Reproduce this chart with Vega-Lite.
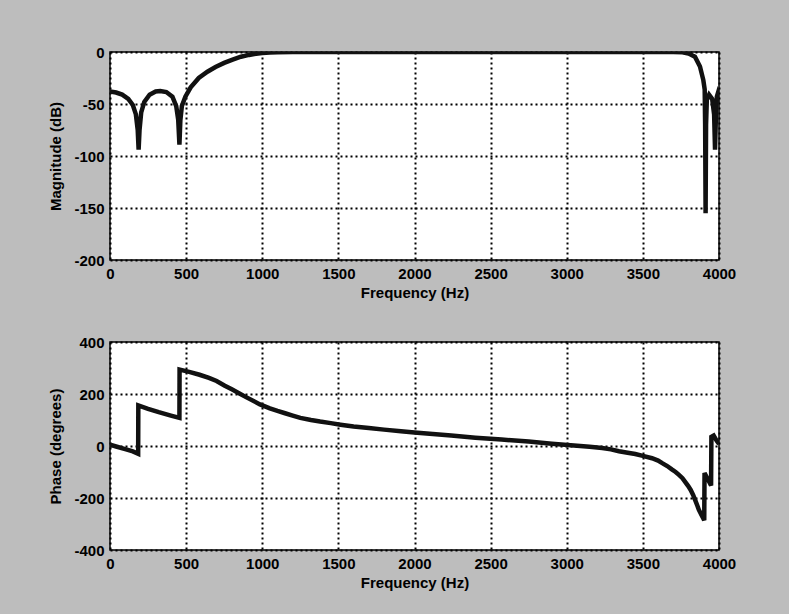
{
  "$schema": "https://vega.github.io/schema/vega-lite/v6.json",
  "autosize": {"type": "pad"},
  "padding": {"left": 48, "top": 44, "right": 60, "bottom": 30},
  "background": "#bdbdbd",
  "bounds": "flush",
  "spacing": 82,
  "datasets": {
    "mag": [
      {"f": 0, "db": -38}, {"f": 40, "db": -39}, {"f": 80, "db": -41}, {"f": 120, "db": -45},
      {"f": 150, "db": -51}, {"f": 170, "db": -60}, {"f": 182, "db": -75}, {"f": 188, "db": -94},
      {"f": 194, "db": -75}, {"f": 205, "db": -58}, {"f": 225, "db": -48}, {"f": 260, "db": -41},
      {"f": 300, "db": -38}, {"f": 330, "db": -37.5}, {"f": 370, "db": -38.5}, {"f": 410, "db": -43},
      {"f": 435, "db": -52}, {"f": 448, "db": -65}, {"f": 456, "db": -89}, {"f": 462, "db": -66},
      {"f": 472, "db": -52}, {"f": 495, "db": -43}, {"f": 530, "db": -34}, {"f": 583, "db": -25},
      {"f": 640, "db": -19}, {"f": 693, "db": -14.5}, {"f": 750, "db": -10.5}, {"f": 801, "db": -7.5},
      {"f": 860, "db": -4.5}, {"f": 913, "db": -2.8}, {"f": 960, "db": -1.6}, {"f": 1000, "db": -1},
      {"f": 1050, "db": -0.5}, {"f": 1100, "db": -0.2}, {"f": 1200, "db": 0}, {"f": 2000, "db": 0},
      {"f": 3000, "db": 0}, {"f": 3700, "db": 0}, {"f": 3760, "db": -0.3}, {"f": 3800, "db": -1.5},
      {"f": 3842, "db": -4.5}, {"f": 3875, "db": -14}, {"f": 3897, "db": -27}, {"f": 3906, "db": -36},
      {"f": 3909, "db": -70}, {"f": 3912, "db": -155}, {"f": 3915, "db": -70}, {"f": 3920, "db": -46},
      {"f": 3935, "db": -41}, {"f": 3955, "db": -45}, {"f": 3968, "db": -60}, {"f": 3974, "db": -94},
      {"f": 3980, "db": -60}, {"f": 3986, "db": -43}, {"f": 3994, "db": -39}, {"f": 4000, "db": -41}
    ],
    "phase": [
      {"f": 0, "deg": 5}, {"f": 40, "deg": -2}, {"f": 100, "deg": -12}, {"f": 150, "deg": -21},
      {"f": 185, "deg": -30}, {"f": 186, "deg": 156}, {"f": 250, "deg": 143}, {"f": 320, "deg": 130},
      {"f": 400, "deg": 117}, {"f": 456, "deg": 108}, {"f": 457, "deg": 294}, {"f": 520, "deg": 285},
      {"f": 588, "deg": 274}, {"f": 650, "deg": 262}, {"f": 700, "deg": 250}, {"f": 754, "deg": 232},
      {"f": 800, "deg": 218}, {"f": 850, "deg": 202}, {"f": 900, "deg": 186}, {"f": 985, "deg": 160},
      {"f": 1050, "deg": 145}, {"f": 1100, "deg": 135}, {"f": 1150, "deg": 126}, {"f": 1200, "deg": 117},
      {"f": 1250, "deg": 108}, {"f": 1320, "deg": 100}, {"f": 1380, "deg": 94}, {"f": 1450, "deg": 88},
      {"f": 1514, "deg": 82}, {"f": 1600, "deg": 75}, {"f": 1700, "deg": 69}, {"f": 1800, "deg": 63},
      {"f": 1911, "deg": 57}, {"f": 2000, "deg": 52}, {"f": 2100, "deg": 47},
      {"f": 2241, "deg": 40}, {"f": 2400, "deg": 32}, {"f": 2572, "deg": 25}, {"f": 2750, "deg": 17},
      {"f": 2902, "deg": 9}, {"f": 3068, "deg": 1}, {"f": 3150, "deg": -3}, {"f": 3233, "deg": -8},
      {"f": 3290, "deg": -13}, {"f": 3343, "deg": -20},
      {"f": 3400, "deg": -26}, {"f": 3450, "deg": -31}, {"f": 3500, "deg": -38}, {"f": 3560, "deg": -47},
      {"f": 3600, "deg": -56}, {"f": 3627, "deg": -66},
      {"f": 3660, "deg": -77}, {"f": 3690, "deg": -90}, {"f": 3715, "deg": -100}, {"f": 3737, "deg": -111},
      {"f": 3760, "deg": -124}, {"f": 3780, "deg": -140}, {"f": 3798, "deg": -154}, {"f": 3814, "deg": -169},
      {"f": 3830, "deg": -188}, {"f": 3845, "deg": -210}, {"f": 3858, "deg": -230}, {"f": 3868, "deg": -246},
      {"f": 3885, "deg": -265}, {"f": 3903, "deg": -286},
      {"f": 3905, "deg": -104}, {"f": 3925, "deg": -126}, {"f": 3948, "deg": -152}, {"f": 3950, "deg": 35},
      {"f": 3965, "deg": 40}, {"f": 3985, "deg": 20}, {"f": 4000, "deg": 8}
    ]
  },
  "vconcat": [
    {
      "width": 609,
      "height": 208,
      "data": {"name": "mag"},
      "mark": {"type": "line", "color": "#111111", "strokeWidth": 4.5, "clip": true},
      "encoding": {
        "x": {"field": "f", "type": "quantitative", "scale": {"domain": [0, 4000], "nice": false},
          "axis": {"values": [0, 500, 1000, 1500, 2000, 2500, 3000, 3500, 4000], "title": "Frequency (Hz)"}},
        "y": {"field": "db", "type": "quantitative", "scale": {"domain": [-200, 0], "nice": false, "zero": false},
          "axis": {"values": [-200, -150, -100, -50, 0], "title": "Magnitude (dB)"}}
      }
    },
    {
      "width": 609,
      "height": 208,
      "data": {"name": "phase"},
      "mark": {"type": "line", "color": "#111111", "strokeWidth": 4.5, "clip": true},
      "encoding": {
        "x": {"field": "f", "type": "quantitative", "scale": {"domain": [0, 4000], "nice": false},
          "axis": {"values": [0, 500, 1000, 1500, 2000, 2500, 3000, 3500, 4000], "title": "Frequency (Hz)"}},
        "y": {"field": "deg", "type": "quantitative", "scale": {"domain": [-400, 400], "nice": false},
          "axis": {"values": [-400, -200, 0, 200, 400], "title": "Phase (degrees)"}}
      }
    }
  ],
  "config": {
    "view": {"fill": "white", "stroke": "black", "strokeWidth": 1.5},
    "axis": {
      "labelFont": "Liberation Sans",
      "labelFontWeight": "bold",
      "labelFontSize": 15,
      "labelColor": "black",
      "labelExpr": "'' + datum.value",
      "titleFont": "Liberation Sans",
      "titleFontWeight": "bold",
      "titleFontSize": 15,
      "titleColor": "black",
      "domain": false,
      "ticks": false,
      "grid": true,
      "gridColor": "black",
      "gridOpacity": 1,
      "gridWidth": 2,
      "gridDash": [2, 3]
    },
    "axisX": {"labelPadding": 6, "titlePadding": 4, "labelFlush": false, "labelOverlap": false},
    "axisY": {"labelPadding": 6, "titlePadding": 10, "labelFlush": false, "labelOverlap": false}
  }
}
